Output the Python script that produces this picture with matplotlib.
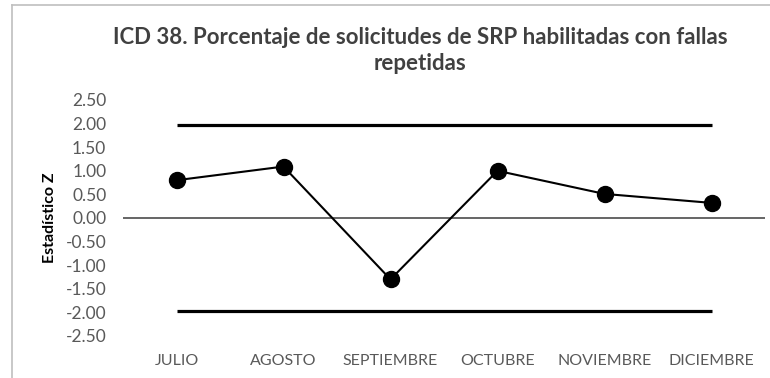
import matplotlib
matplotlib.use("Agg")
import matplotlib.pyplot as plt
from matplotlib.lines import Line2D

months = ["JULIO", "AGOSTO", "SEPTIEMBRE", "OCTUBRE", "NOVIEMBRE", "DICIEMBRE"]
z_values = [0.80, 1.09, -1.30, 1.00, 0.51, 0.32]
upper_limit = [1.96] * len(months)
lower_limit = [-1.96] * len(months)
y_ticks = [2.5, 2.0, 1.5, 1.0, 0.5, 0.0, -0.5, -1.0, -1.5, -2.0, -2.5]

plt.rcParams["font.family"] = ["Lato", "DejaVu Sans"]

W, H = 770, 378
fig = plt.figure(figsize=(W / 100, H / 100), dpi=100)
ax = fig.add_axes([123 / W, 1 - 336 / H, (765 - 123) / W, (336 - 100) / H])

x = list(range(len(months)))
ax.axhline(0, color="#595959", lw=1.3, zorder=1)
ax.plot(x, upper_limit, color="black", lw=2.3, solid_capstyle="butt", zorder=2)
ax.plot(x, lower_limit, color="black", lw=2.3, solid_capstyle="butt", zorder=2)
ax.plot(x, z_values, color="black", lw=1.5, marker="o", markersize=11.5, zorder=3)

ax.set_xlim(-0.5, len(months) - 0.5)
ax.set_ylim(-2.5, 2.5)
ax.set_xticks(x)
ax.set_xticklabels(months)
ax.set_yticks(y_ticks)
ax.set_yticklabels([f"{v:.2f}" for v in y_ticks])
ax.tick_params(length=0, labelcolor="#595959")
ax.tick_params(axis="x", labelsize=11.5, pad=13)
ax.tick_params(axis="y", labelsize=12.5, pad=12)
for s in ax.spines.values():
    s.set_visible(False)

fig.text(50 / W, 1 - 218 / H, "Estadístico Z", rotation=90, ha="center", va="center",
         fontsize=11.5, fontweight="bold", color="black")
fig.text(420 / W, 1 - 37 / H, "ICD 38. Porcentaje de solicitudes de SRP habilitadas con fallas",
         ha="center", va="center", fontsize=16, fontweight="bold", color="#404040")
fig.text(420 / W, 1 - 64 / H, "repetidas",
         ha="center", va="center", fontsize=16, fontweight="bold", color="#404040")

# chart frame (left and top edges)
fig.add_artist(Line2D([12.5 / W, 12.5 / W], [0, 1 - 4.5 / H], color="#BFBFBF", lw=1.2,
                      transform=fig.transFigure))
fig.add_artist(Line2D([12.5 / W, 1], [1 - 4.5 / H, 1 - 4.5 / H], color="#BFBFBF", lw=1.2,
                      transform=fig.transFigure))

fig.savefig("out.png", dpi=100)
